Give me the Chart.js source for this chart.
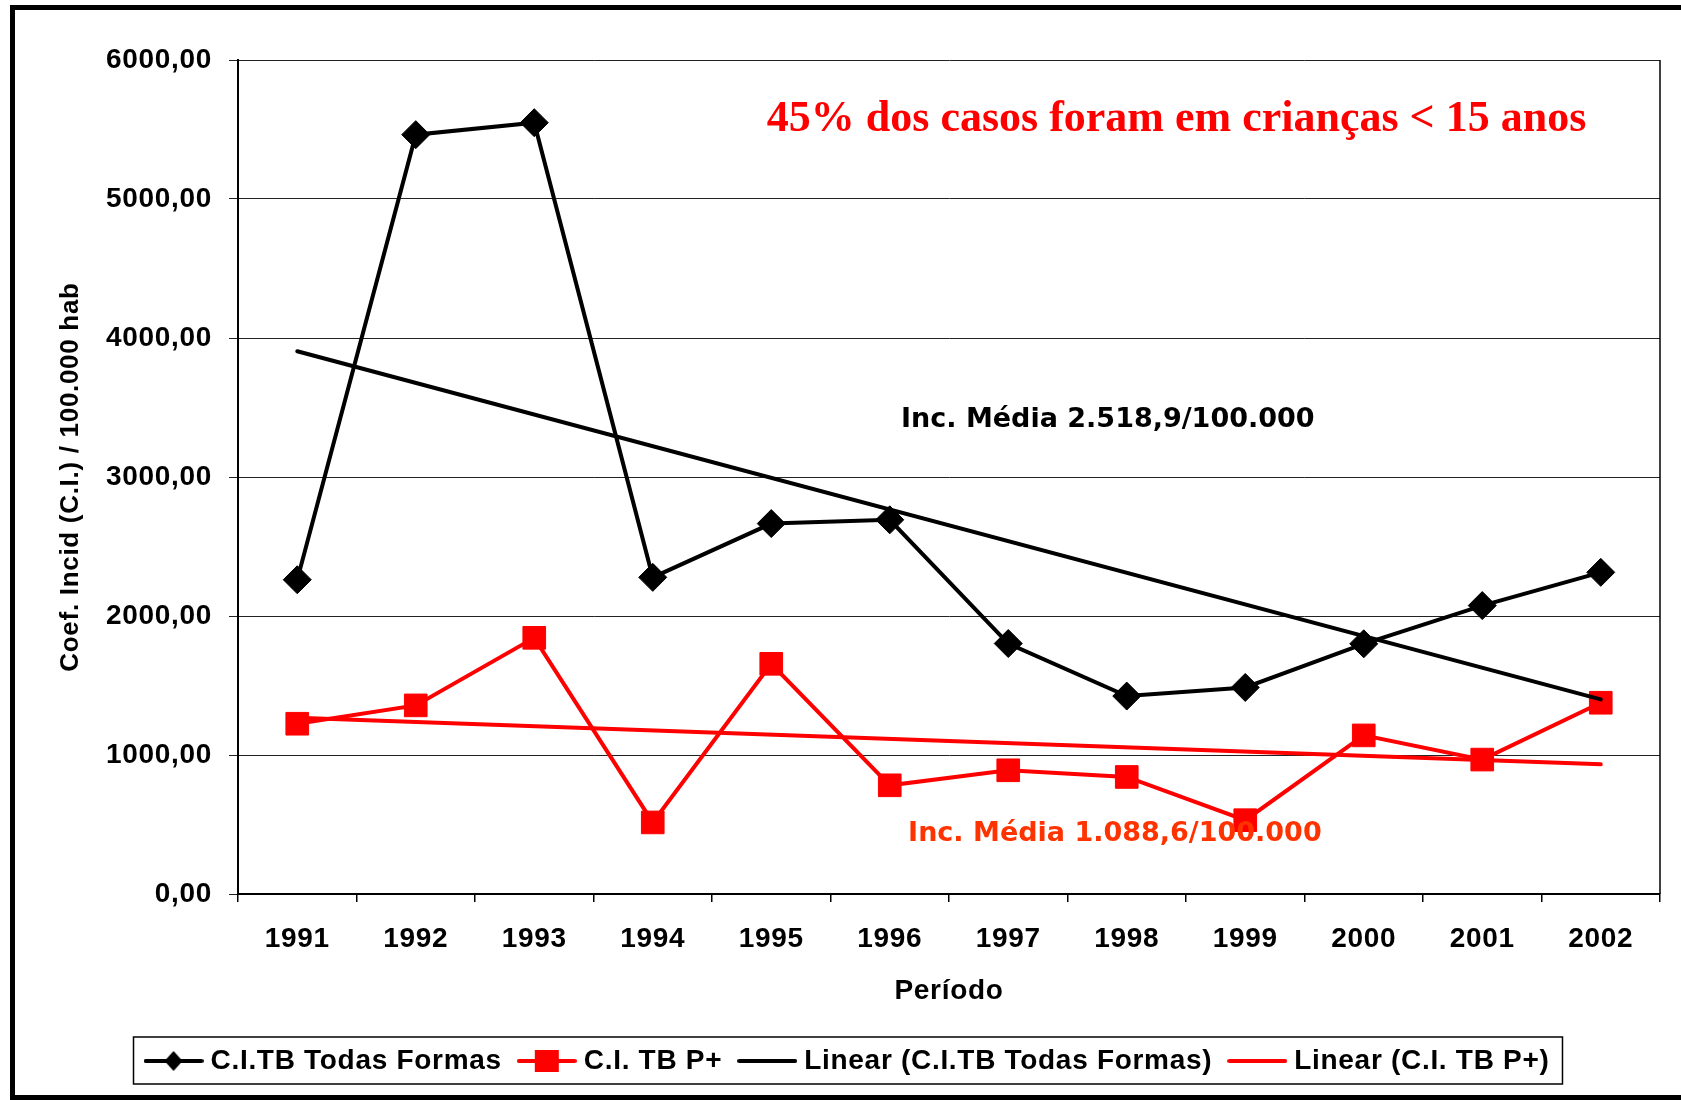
<!DOCTYPE html>
<html>
<head>
<meta charset="utf-8">
<script src="https://cdn.jsdelivr.net/npm/chart.js@4/dist/chart.umd.min.js"></script>
<style>
html, body { margin: 0; padding: 0; background: #fff; overflow: hidden; }
#wrap { width: 1681px; height: 1100px; position: relative; }
</style>
</head>
<body>
<div id="wrap"><canvas id="grafico"></canvas></div>
<script>
// === DADOS ===
const anos = ['1991', '1992', '1993', '1994', '1995', '1996', '1997', '1998', '1999', '2000', '2001', '2002'];
const todasFormas = [2261, 5463, 5549, 2278, 2665, 2692, 1802, 1424, 1486, 1800, 2075, 2314];
const tbPositivo = [1225, 1357, 1843, 515, 1656, 782, 890, 842, 531, 1141, 967, 1376];
// linhas de tendencia: so os extremos
const tendTodas = [3905, null, null, null, null, null, null, null, null, null, null, 1400];
const tendPositivo = [1268, null, null, null, null, null, null, null, null, null, null, 933];
const rotulos = ['C.I.TB Todas Formas', 'C.I. TB P+', 'Linear (C.I.TB Todas Formas)', 'Linear (C.I. TB P+)'];
const tituloY = 'Coef. Incid (C.I.) / 100.000 hab';
const tituloX = 'Período';
const textoCriancas = '45% dos casos foram em crianças < 15 anos';
const textoMediaTodas = 'Inc. Média 2.518,9/100.000';
const textoMediaPos = 'Inc. Média 1.088,6/100.000';

const PRETO = '#000000';
const VERMELHO = '#ff0000';
const ESPACO_LETRAS = '0.7px';
const DESLOC_LEGENDA = 20;

Chart.defaults.font.family = "'Liberation Sans', Arial, sans-serif";
Chart.defaults.font.weight = 'bold';
Chart.defaults.color = '#000';

// simbolos da legenda (linha + marcador)
function simbolo(cor, tipo) {
    const c = document.createElement('canvas');
    c.width = 60; c.height = 26;
    const g = c.getContext('2d');
    g.strokeStyle = cor;
    g.fillStyle = cor;
    g.lineWidth = 4;
    g.lineCap = 'round';
    g.beginPath(); g.moveTo(2, 13); g.lineTo(58, 13); g.stroke();
    if (tipo === 'losango') {
        g.beginPath();
        g.moveTo(30, 3); g.lineTo(39, 13); g.lineTo(30, 23); g.lineTo(21, 13);
        g.closePath(); g.fill();
    } else if (tipo === 'quadrado') {
        g.fillRect(18, 2, 24, 22);
    }
    return c;
}
const simbolos = [simbolo(PRETO, 'losango'), simbolo(VERMELHO, 'quadrado'), simbolo(PRETO), simbolo(VERMELHO)];

// anotacoes (posicao em indice de categoria / valor do eixo)
const anotacoes = [
    { texto: textoCriancas, x: 7.42, y: 5571, fonte: "bold 44px 'Liberation Serif', serif", cor: '#ff0000' },
    { texto: textoMediaTodas, x: 6.84, y: 3410, fonte: "bold 27px 'DejaVu Sans', Verdana, sans-serif", cor: '#000000' },
    { texto: textoMediaPos, x: 6.90, y: 431, fonte: "bold 27px 'DejaVu Sans', Verdana, sans-serif", cor: '#ff3300' }
];

const extras = {
    id: 'extras',
    beforeUpdate(chart) {
        chart.ctx.letterSpacing = ESPACO_LETRAS;
    },
    afterLayout(chart) {
        // legenda um pouco deslocada para a direita, como no original
        chart.legend.left += DESLOC_LEGENDA;
        chart.legend.right += DESLOC_LEGENDA;
    },
    beforeDraw(chart) {
        const ctx = chart.ctx;
        ctx.letterSpacing = ESPACO_LETRAS;
        ctx.save();
        ctx.fillStyle = '#fff';
        ctx.fillRect(0, 0, chart.width, chart.height);
        ctx.restore();
    },
    beforeDatasetsDraw(chart) {
        const { ctx, chartArea } = chart;
        ctx.save();
        ctx.strokeStyle = '#000';
        ctx.lineWidth = 1.5;
        ctx.beginPath();
        ctx.moveTo(chartArea.right, chartArea.top);
        ctx.lineTo(chartArea.right, chartArea.bottom);
        ctx.stroke();
        ctx.restore();
    },
    afterDatasetsDraw(chart) {
        const ctx = chart.ctx;
        const sx = chart.scales.x, sy = chart.scales.y;
        ctx.save();
        ctx.letterSpacing = '0px';
        ctx.textAlign = 'center';
        ctx.textBaseline = 'middle';
        anotacoes.forEach(a => {
            ctx.font = a.fonte;
            ctx.fillStyle = a.cor;
            ctx.fillText(a.texto, sx.getPixelForValue(a.x), sy.getPixelForValue(a.y));
        });
        ctx.restore();
    },
    afterDraw(chart) {
        const ctx = chart.ctx;
        ctx.save();
        // caixa da legenda
        const hb = chart.legend.legendHitBoxes;
        if (hb && hb.length) {
            const ult = hb[hb.length - 1];
            const cy = hb[0].top + hb[0].height / 2;
            const esq = hb[0].left - 17;
            const dir = ult.left + ult.width + 13;
            ctx.strokeStyle = '#000';
            ctx.lineWidth = 1.5;
            ctx.strokeRect(esq, cy - 24, dir - esq, 47);
        }
        // moldura externa (sem lado direito, cortado no original)
        ctx.strokeStyle = '#000';
        ctx.lineWidth = 5;
        ctx.beginPath();
        ctx.moveTo(chart.width + 5, 7.5);
        ctx.lineTo(12.5, 7.5);
        ctx.lineTo(12.5, 1097.5);
        ctx.lineTo(chart.width + 5, 1097.5);
        ctx.stroke();
        ctx.restore();
    }
};

new Chart(document.getElementById('grafico'), {
    type: 'line',
    data: {
        labels: anos,
        datasets: [
            {
                label: rotulos[0], data: todasFormas, order: 3,
                borderColor: PRETO, backgroundColor: PRETO, borderWidth: 4,
                pointStyle: 'rectRot', pointRadius: 14, pointBorderWidth: 1,
                pointBackgroundColor: PRETO, pointBorderColor: PRETO, tension: 0
            },
            {
                label: rotulos[1], data: tbPositivo, order: 4,
                borderColor: VERMELHO, backgroundColor: VERMELHO, borderWidth: 4,
                pointStyle: 'rect', pointRadius: 16, pointBorderWidth: 1,
                pointBackgroundColor: VERMELHO, pointBorderColor: VERMELHO, tension: 0
            },
            {
                label: rotulos[2], data: tendTodas, order: 1, spanGaps: true,
                borderColor: PRETO, backgroundColor: PRETO, borderWidth: 4,
                pointRadius: 0, borderCapStyle: 'round', tension: 0
            },
            {
                label: rotulos[3], data: tendPositivo, order: 2, spanGaps: true,
                borderColor: VERMELHO, backgroundColor: VERMELHO, borderWidth: 4,
                pointRadius: 0, borderCapStyle: 'round', tension: 0
            }
        ]
    },
    options: {
        responsive: true,
        maintainAspectRatio: false,
        animation: false,
        events: [],
        layout: { padding: { left: 0, right: 21, top: 60, bottom: 15 } },
        plugins: {
            tooltip: { enabled: false },
            legend: {
                position: 'bottom',
                labels: {
                    usePointStyle: true,
                    pointStyleWidth: 46,
                    padding: 22,
                    color: '#000',
                    font: { size: 28, weight: 'bold' },
                    sort: (a, b) => a.datasetIndex - b.datasetIndex,
                    generateLabels(chart) {
                        const itens = Chart.defaults.plugins.legend.labels.generateLabels(chart);
                        itens.forEach(it => { it.pointStyle = simbolos[it.datasetIndex]; });
                        return itens;
                    }
                }
            }
        },
        scales: {
            x: {
                offset: true,
                grid: { offset: true, drawOnChartArea: false, drawTicks: true, tickLength: 8, color: '#000', lineWidth: 1.5 },
                border: { color: '#000', width: 2 },
                ticks: { font: { size: 28, weight: 'bold' }, color: '#000', padding: 20, maxRotation: 0, autoSkip: false },
                title: { display: true, text: tituloX, font: { size: 28, weight: 'bold' }, color: '#000', padding: { top: 0, bottom: 17 } },
                afterFit(s) { s.height = 131; }
            },
            y: {
                min: 0, max: 6000,
                grid: { color: '#222', lineWidth: 1, tickLength: 9 },
                border: { color: '#000', width: 2 },
                ticks: {
                    stepSize: 1000,
                    font: { size: 28, weight: 'bold' }, color: '#000', padding: 17,
                    callback: v => v.toFixed(2).replace('.', ',')
                },
                title: { display: true, text: tituloY, font: { size: 26, weight: 'bold' }, color: '#000', padding: { top: 55, bottom: 0 } },
                afterFit(s) { s.width = 238; }
            }
        }
    },
    plugins: [extras]
});
</script>
</body>
</html>
